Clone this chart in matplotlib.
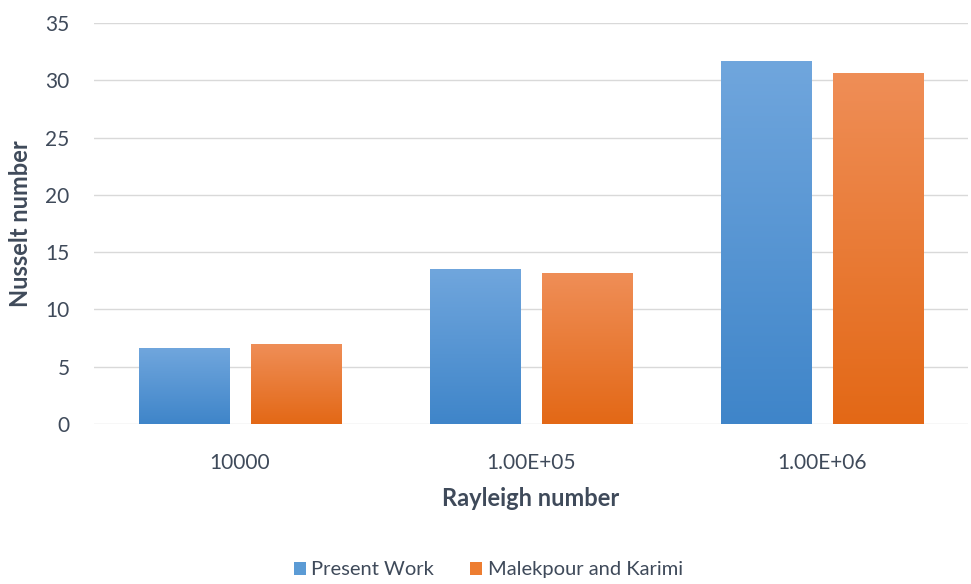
import numpy as np
import matplotlib
matplotlib.use("Agg")
import matplotlib.pyplot as plt
from matplotlib.colors import LinearSegmentedColormap
from matplotlib.patches import Patch

plt.rcParams['font.family'] = ['Lato', 'DejaVu Sans']

categories = ["10000", "1.00E+05", "1.00E+06"]
present_work = [6.6, 13.45, 31.6]
malekpour_karimi = [6.95, 13.1, 30.6]

series = [
    ("Present Work", present_work, ("#3f85c9", "#70a6dd"), "#5b9bd5"),
    ("Malekpour and Karimi", malekpour_karimi, ("#e36816", "#ef8e57"), "#ed7d31"),
]

text_color = "#3f4a5a"

fig = plt.figure(figsize=(9.71, 5.84), dpi=100)
ax = fig.add_axes([0.0973, 0.274, 0.8991, 0.6866])

x = np.arange(len(categories))
width = 0.31
offsets = [-0.193, 0.193]

for (name, vals, (c_bot, c_top), solid), off in zip(series, offsets):
    bars = ax.bar(x + off, vals, width, color="none", edgecolor="none", zorder=3)
    cmap = LinearSegmentedColormap.from_list(name, [c_bot, c_top])
    grad = np.linspace(0, 1, 256).reshape(-1, 1)
    for b in bars:
        x0, y0 = b.get_x(), b.get_y()
        w, h = b.get_width(), b.get_height()
        ax.imshow(grad, cmap=cmap, origin="lower", aspect="auto",
                  extent=(x0, x0 + w, y0, y0 + h), zorder=3)

ax.set_xlim(-0.5, len(categories) - 0.5)
ax.set_ylim(0, 35)
ax.set_yticks(np.arange(0, 36, 5))
ax.set_xticks(x)
ax.set_xticklabels(categories)
ax.grid(axis="y", color="#d9d9d9", linewidth=1.0, zorder=0)
for s in ax.spines.values():
    s.set_visible(False)
ax.tick_params(axis="both", length=0, labelsize=15, colors=text_color)
ax.tick_params(axis="y", pad=18)
ax.tick_params(axis="x", pad=21)

ax.set_xlabel("Rayleigh number", fontsize=17, fontweight="bold", color=text_color)
ax.xaxis.set_label_coords(0.5, -0.157)
ax.set_ylabel("Nusselt number", fontsize=17, fontweight="bold", color=text_color)
ax.yaxis.set_label_coords(-0.0716, 0.5)

handles = [Patch(facecolor=s[3], edgecolor="none") for s in series]
fig.legend(handles, [s[0] for s in series], loc="center", bbox_to_anchor=(0.503, 0.024),
           ncol=2, frameon=False, fontsize=14.5, labelcolor=text_color,
           handlelength=0.6, handleheight=0.6, handletextpad=0.25, columnspacing=1.8)

fig.savefig("out.png", dpi=100)
